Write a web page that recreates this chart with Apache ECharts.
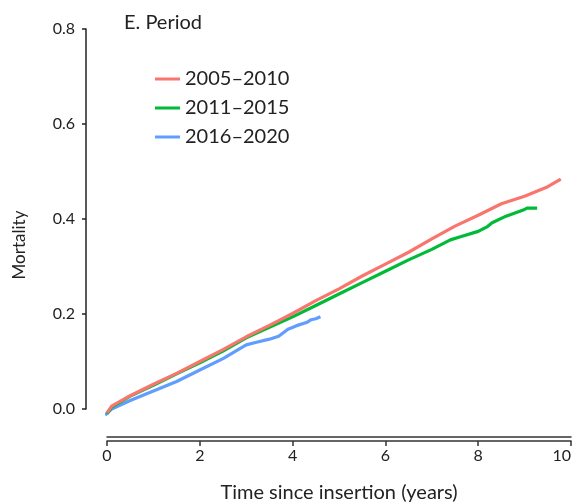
<!DOCTYPE html>
<html>
<head>
<meta charset="utf-8">
<script src="https://cdn.jsdelivr.net/npm/echarts@6/dist/echarts.min.js"></script>
<style>
html,body{margin:0;padding:0;background:#fff;}
#chart{width:580px;height:504px;}
</style>
</head>
<body>
<div id="chart"></div>
<script>
var seriesNames = ['2005–2010', '2011–2015', '2016–2020'];
var seriesColors = ['#F8766D', '#00BA38', '#619CFF'];

var red = [
  [0, -0.008], [0.1, 0.006], [0.5, 0.028], [1.0, 0.052], [1.5, 0.075], [2.0, 0.100],
  [2.5, 0.125], [3.0, 0.152], [3.5, 0.176], [4.0, 0.201], [4.5, 0.228], [5.0, 0.253],
  [5.5, 0.280], [6.0, 0.305], [6.5, 0.330], [7.0, 0.358], [7.5, 0.385], [8.0, 0.408],
  [8.5, 0.432], [9.0, 0.448], [9.5, 0.468], [9.78, 0.484]
];
var green = [
  [0, -0.01], [0.1, 0.004], [0.5, 0.027], [1.0, 0.050], [1.5, 0.074], [2.0, 0.097],
  [2.5, 0.122], [3.0, 0.150], [3.5, 0.172], [4.0, 0.194], [4.5, 0.218], [5.0, 0.242],
  [5.5, 0.266], [6.0, 0.290], [6.5, 0.314], [7.0, 0.336], [7.4, 0.356], [7.6, 0.362],
  [8.0, 0.374], [8.2, 0.384], [8.3, 0.392], [8.6, 0.406], [9.0, 0.420], [9.05, 0.423],
  [9.27, 0.423]
];
var blue = [
  [-0.04, -0.013], [0.1, 0.0], [0.5, 0.018], [1.0, 0.038], [1.5, 0.058], [2.0, 0.082],
  [2.5, 0.106], [3.0, 0.135], [3.2, 0.140], [3.5, 0.147], [3.7, 0.153], [3.9, 0.168],
  [4.1, 0.176], [4.3, 0.182], [4.4, 0.188], [4.5, 0.190], [4.6, 0.194]
];
var seriesData = [red, green, blue];

var xMin = 0, xMax = 10, xStep = 2;
var yMin = 0, yMax = 0.8, yStep = 0.2;

var FONT = 'Lato';
var chart = echarts.init(document.getElementById('chart'));
chart.setOption({
  animation: false,
  textStyle: { fontFamily: FONT, color: '#222' },
  title: {
    text: 'E. Period', left: 119, top: 8,
    textStyle: { fontFamily: FONT, fontSize: 20, fontWeight: 'normal', color: '#222' }
  },
  legend: {
    orient: 'vertical', left: 150, top: 64,
    icon: 'rect', itemWidth: 25, itemHeight: 3, itemGap: 9,
    textStyle: { fontFamily: FONT, fontSize: 20, color: '#222' },
    data: seriesNames
  },
  grid: { left: 107, right: 9, top: 29, bottom: 95, containLabel: false, outerBoundsMode: 'none' },
  xAxis: [
    {
      type: 'value', min: xMin, max: xMax, interval: xStep, position: 'bottom', offset: 28,
      axisLine: { show: true, onZero: false, lineStyle: { color: '#333', width: 1.5 } },
      axisTick: { show: false }, axisLabel: { show: false }, splitLine: { show: false }
    },
    {
      type: 'value', min: xMin, max: xMax, interval: xStep, position: 'bottom', offset: 32,
      axisLine: { show: true, onZero: false, lineStyle: { color: '#333', width: 1.5 } },
      axisTick: { show: true, length: 5, lineStyle: { color: '#333', width: 1.5 } },
      axisLabel: { fontFamily: FONT, fontSize: 16, color: '#222', margin: 7, alignMaxLabel: 'right' },
      splitLine: { show: false },
      name: 'Time since insertion (years)', nameLocation: 'middle', nameGap: 42,
      nameTextStyle: { fontFamily: FONT, fontSize: 20, color: '#222' }
    }
  ],
  yAxis: {
    type: 'value', min: yMin, max: yMax, interval: yStep, position: 'left', offset: 21,
    axisLine: { show: true, onZero: false, lineStyle: { color: '#222', width: 1.5 } },
    axisTick: { show: true, length: 4, lineStyle: { color: '#222', width: 1.5 } },
    axisLabel: { fontFamily: FONT, fontSize: 16, color: '#222', margin: 11,
      formatter: function (v) { return v.toFixed(1); } },
    splitLine: { show: false }
  },
  graphic: [{
    type: 'text', x: 20, y: 245, rotation: Math.PI / 2,
    style: { text: 'Mortality', fontFamily: FONT, fontSize: 17, fill: '#222',
      textAlign: 'center', textVerticalAlign: 'middle' }
  }],
  series: seriesNames.map(function (n, i) {
    return {
      name: n, type: 'line', xAxisIndex: 1, data: seriesData[i],
      showSymbol: false, clip: false, z: 3 - i,
      lineStyle: { color: seriesColors[i], width: 3.2 },
      itemStyle: { color: seriesColors[i] }
    };
  })
});
</script>
</body>
</html>
